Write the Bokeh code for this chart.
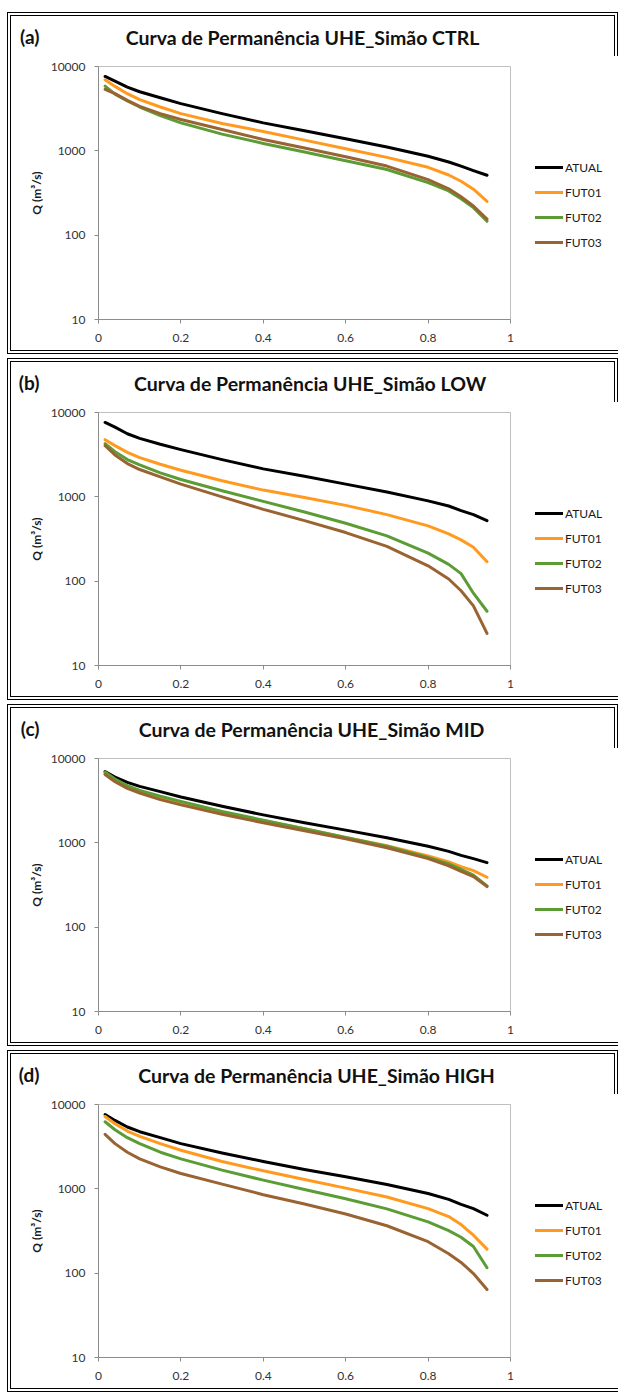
from bokeh.plotting import figure
from bokeh.models import Range1d, FixedTicker, PrintfTickFormatter, Legend, LegendItem
from bokeh.layouts import column
from bokeh.embed import file_html
from bokeh.resources import INLINE
from bokeh.core.properties import value

# exceedance probability (x axis)
x = [0.016, 0.04, 0.07, 0.1, 0.15, 0.2, 0.3, 0.4, 0.5, 0.6, 0.7, 0.8, 0.85, 0.88, 0.91, 0.943]

series_names = ["ATUAL", "FUT01", "FUT02", "FUT03"]
tags = ["(a)", "(b)", "(c)", "(d)"]
titles = ["Curva de Permanência UHE_Simão CTRL",
          "Curva de Permanência UHE_Simão  LOW",
          "Curva de Permanência UHE_Simão MID",
          "Curva de Permanência UHE_Simão HIGH"]

# (a) CTRL
ctrl_atual = [7620, 6720, 5700, 5020, 4265, 3627, 2764, 2145, 1726, 1390, 1110, 861, 738, 658, 582, 513]
ctrl_fut01 = [6960, 5810, 4760, 4044, 3310, 2764, 2107, 1695, 1340, 1059, 836, 638, 517, 436, 351, 251]
ctrl_fut02 = [5850, 4700, 3900, 3310, 2618, 2145, 1578, 1224, 967, 764, 600, 420, 335, 270, 212, 146]
ctrl_fut03 = [5350, 4760, 3970, 3373, 2764, 2349, 1791, 1365, 1078, 852, 660, 455, 355, 285, 222, 155]

# (b) LOW
low_atual = [7620, 6720, 5600, 4930, 4195, 3627, 2764, 2145, 1758, 1415, 1140, 895, 778, 685, 615, 522]
low_fut01 = [4760, 4044, 3373, 2918, 2436, 2070, 1550, 1202, 984, 792, 615, 452, 364, 309, 253, 170]
low_fut02 = [4265, 3435, 2764, 2391, 1924, 1606, 1180, 883, 661, 486, 345, 215, 158, 123, 72, 44]
low_fut03 = [4044, 3139, 2480, 2107, 1726, 1415, 1000, 711, 522, 377, 258, 152, 106, 77, 51, 24]

# (c) MID
mid_atual = [7000, 6030, 5210, 4670, 4044, 3500, 2716, 2145, 1726, 1415, 1150, 910, 792, 711, 649, 582]
mid_fut01 = [6590, 5600, 4670, 4120, 3435, 2970, 2306, 1823, 1466, 1159, 925, 698, 593, 522, 469, 391]
mid_fut02 = [6900, 5700, 4760, 4195, 3565, 3085, 2349, 1856, 1466, 1159, 910, 673, 562, 486, 413, 309]
mid_fut03 = [6475, 5310, 4430, 3900, 3254, 2817, 2183, 1726, 1390, 1117, 875, 649, 532, 460, 398, 303]

# (d) HIGH
high_atual = [7620, 6475, 5410, 4760, 4044, 3435, 2666, 2107, 1695, 1390, 1125, 880, 751, 655, 582, 486]
high_fut01 = [7216, 5915, 4845, 4195, 3435, 2866, 2107, 1635, 1291, 1020, 800, 582, 469, 377, 282, 193]
high_fut02 = [6245, 5020, 4044, 3435, 2716, 2264, 1665, 1269, 984, 764, 578, 405, 320, 267, 207, 116]
high_fut03 = [4430, 3435, 2716, 2264, 1823, 1520, 1138, 852, 661, 503, 365, 236, 170, 134, 99, 64]

y_ticks = [10, 100, 1000, 10000]
x_ticks = [0, 0.2, 0.4, 0.6, 0.8, 1]

panels = [
    [ctrl_atual, ctrl_fut01, ctrl_fut02, ctrl_fut03],
    [low_atual, low_fut01, low_fut02, low_fut03],
    [mid_atual, mid_fut01, mid_fut02, mid_fut03],
    [high_atual, high_fut01, high_fut02, high_fut03],
]

colors = ["#000000", "#FF9A1F", "#5C9C35", "#9A6332"]
FONT = "Lato"
FW, FH = 412, 253          # plot frame size, px
HEAD_H = 40
BL, BR = 87, 104           # left / right borders, px
title_cx = [204, 214, 213, 218]   # title centre, px from frame left
head_mid = 21

BORDER = "4px double #000000"
CLIP_HEAD = "polygon(-10px -10px, calc(100% + 10px) -10px, calc(100% + 10px) 100%, -10px 100%)"
CLIP_CHART = "polygon(-10px 0px, calc(100% + 10px) 0px, calc(100% + 10px) calc(100% + 10px), -10px calc(100% + 10px))"

items = []
for i, ys in enumerate(panels):
    # header strip: panel tag (as horizontal axis label) and title
    h = figure(frame_width=FW, frame_height=HEAD_H, x_range=Range1d(0, FW), y_range=Range1d(HEAD_H, 0),
               output_backend="svg", toolbar_location=None,
               x_axis_location=None, y_axis_location="left",
               min_border_left=BL, min_border_right=BR, min_border_top=0, min_border_bottom=0,
               background_fill_color="white", border_fill_color="white",
               margin=(16 if i == 0 else 4, 4, 0, 11),
               styles={"outline": BORDER, "clip-path": CLIP_HEAD})
    h.outline_line_color = None
    h.xgrid.visible = False
    h.ygrid.visible = False
    h.yaxis.ticker = FixedTicker(ticks=[])
    h.yaxis.axis_line_color = None
    h.yaxis.major_tick_line_color = None
    h.yaxis.minor_tick_line_color = None
    h.yaxis.axis_label = tags[i]
    h.yaxis.axis_label_text_font = FONT
    h.yaxis.axis_label_text_font_style = "bold"
    h.yaxis.axis_label_text_font_size = "19px"
    h.yaxis.axis_label_text_color = "#111111"
    h.yaxis.axis_label_standoff = 59
    try:
        h.yaxis.axis_label_orientation = "horizontal"
    except Exception:
        pass
    h.text(x=[title_cx[i]], y=[head_mid], text=[titles[i]], text_font=value(FONT),
           text_font_style="bold", text_font_size="19.5px", text_baseline="middle",
           text_align="center", text_color="#111111")

    p = figure(frame_width=FW, frame_height=FH, output_backend="svg", toolbar_location=None,
               y_axis_type="log", x_range=Range1d(0, 1), y_range=Range1d(10, 10000),
               min_border_left=BL, min_border_right=BR, min_border_top=10, min_border_bottom=31,
               background_fill_color="white", border_fill_color="white",
               margin=(0, 4, 8 if i < 3 else 4, 11),
               styles={"outline": BORDER, "clip-path": CLIP_CHART})
    p.xgrid.visible = False
    p.ygrid.visible = False
    p.outline_line_color = "#BFBFBF"
    p.outline_line_width = 1

    renderers = []
    for ser, col in zip(ys, colors):
        r = p.line(x, ser, line_width=3, line_color=col, line_join="round", line_cap="round")
        renderers.append(r)

    for ax in (p.xaxis[0], p.yaxis[0]):
        ax.axis_line_color = "#8C8C8C"
        ax.major_tick_line_color = "#8C8C8C"
        ax.major_tick_in = 0
        ax.major_tick_out = 4
        ax.minor_tick_line_color = None
        ax.major_label_text_font = FONT
        ax.major_label_text_font_size = "12px"
        ax.major_label_text_color = "#333333"

    p.xaxis.ticker = FixedTicker(ticks=x_ticks)
    p.xaxis.major_label_overrides = {0: "0", 1: "1"}
    p.xaxis.major_label_standoff = 10

    p.yaxis.ticker = FixedTicker(ticks=y_ticks)
    p.yaxis.formatter = PrintfTickFormatter(format="%d")
    p.yaxis.major_label_standoff = 9
    p.yaxis.axis_label = "Q (m³/s)"
    p.yaxis.axis_label_text_font = FONT
    p.yaxis.axis_label_text_font_style = "bold"
    p.yaxis.axis_label_text_font_size = "12px"
    p.yaxis.axis_label_text_color = "#1a1a1a"
    p.yaxis.axis_label_standoff = 4

    legend = Legend(items=[LegendItem(label=n, renderers=[r]) for n, r in zip(series_names, renderers)],
                    location=(25, 67), orientation="vertical",
                    glyph_width=28, glyph_height=20, label_height=20, spacing=5,
                    label_standoff=2, padding=0, margin=0,
                    border_line_color=None, background_fill_alpha=0,
                    label_text_font=FONT, label_text_font_size="12px", label_text_color="#1a1a1a")
    p.add_layout(legend, "right")

    items.extend([h, p])

layout = column(*items, spacing=0)
open("out.html", "w").write(file_html(layout, INLINE))
